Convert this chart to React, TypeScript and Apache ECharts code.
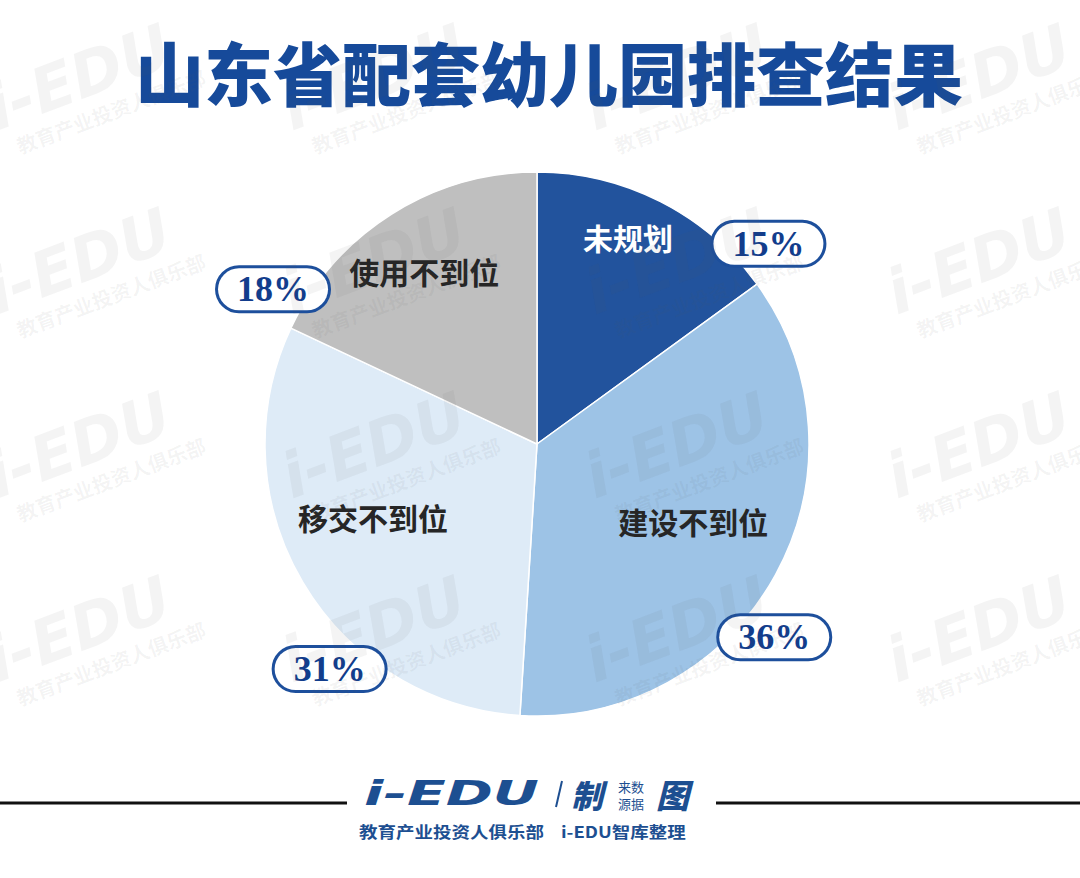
import React, { useEffect, useRef } from 'react';
import * as echarts from 'echarts';

// 山东省配套幼儿园排查结果 — share of problem types (%)
const categories = ['未规划', '建设不到位', '移交不到位', '使用不到位'];
const shares = [15, 36, 31, 18];

const sliceColors = ['#22539d', '#9dc3e6', '#deebf7', '#bfbfbf'];
const nameColors = ['#ffffff', '#262626', '#262626', '#262626'];

// label placement: fraction along each slice's arc and fraction of the radius
const nameArcPos = [0.44, 0.48, 0.56, 0.49];
const nameRadPos = [0.83, 0.64, 0.66, 0.76];
const pctArcPos = [0.91, 0.58, 0.35, 0.08];
const pctRadPos = 1.125;

const CX = 537;
const CY = 444;
const R = 272;

const NAVY = '#1d4f91';
const MARK = 'rgba(90,90,90,0.065)';

function polar(i: number, t: number, rf: number): [number, number] {
  const total = shares.reduce((a, b) => a + b, 0);
  let before = 0;
  for (let k = 0; k < i; k++) before += shares[k];
  const a = ((before + t * shares[i]) / total) * Math.PI * 2;
  return [CX + rf * R * Math.sin(a), CY - rf * R * Math.cos(a)];
}

function watermarks(): any[] {
  const cols = [0, 295, 598, 900];
  const rows = [140, 324, 508, 692];
  const out: any[] = [];
  rows.forEach((y) =>
    cols.forEach((x) => {
      out.push({
        type: 'group',
        x,
        y,
        rotation: 0.36,
        z: 50,
        silent: true,
        children: [
          {
            type: 'text',
            x: 0,
            y: 0,
            z: 50,
            style: {
              text: 'i-EDU',
              fontSize: 62,
              fontWeight: 900,
              fontStyle: 'italic',
              fontFamily: 'DejaVu Sans',
              fill: MARK,
              align: 'left',
              verticalAlign: 'bottom',
            },
          },
          {
            type: 'text',
            x: 14,
            y: 2,
            z: 50,
            style: {
              text: '教育产业投资人俱乐部',
              fontSize: 20,
              fontWeight: 'bold',
              fontFamily: 'Noto Sans CJK SC',
              fill: MARK,
              align: 'left',
              verticalAlign: 'top',
            },
          },
        ],
      });
    })
  );
  return out;
}

function footer(): any[] {
  return [
    { type: 'line', z: 60, shape: { x1: 0, y1: 803, x2: 347, y2: 803 }, style: { stroke: '#111', lineWidth: 3 } },
    { type: 'line', z: 60, shape: { x1: 716, y1: 803, x2: 1080, y2: 803 }, style: { stroke: '#111', lineWidth: 3 } },
    {
      type: 'text',
      x: 364,
      y: 794,
      scaleX: 1.72,
      z: 60,
      style: {
        text: 'i-EDU',
        fontSize: 33,
        fontWeight: 900,
        fontStyle: 'italic',
        fontFamily: 'DejaVu Sans',
        fill: NAVY,
        align: 'left',
        verticalAlign: 'middle',
      },
    },
    { type: 'line', z: 60, shape: { x1: 562, y1: 781, x2: 556, y2: 807 }, style: { stroke: NAVY, lineWidth: 2 } },
    {
      type: 'text',
      x: 571,
      y: 794,
      z: 60,
      style: {
        text: '制',
        fontSize: 32,
        fontWeight: 900,
        fontStyle: 'italic',
        fontFamily: 'Noto Sans CJK SC',
        fill: NAVY,
        align: 'left',
        verticalAlign: 'middle',
      },
    },
    {
      type: 'text',
      x: 618,
      y: 786,
      z: 60,
      style: {
        text: '来数',
        fontSize: 13,
        lineHeight: 14,
        fontFamily: 'Noto Sans CJK SC',
        fill: NAVY,
        align: 'left',
        verticalAlign: 'middle',
      },
    },
    {
      type: 'text',
      x: 618,
      y: 803,
      z: 60,
      style: {
        text: '源据',
        fontSize: 13,
        lineHeight: 14,
        fontFamily: 'Noto Sans CJK SC',
        fill: NAVY,
        align: 'left',
        verticalAlign: 'middle',
      },
    },
    {
      type: 'text',
      x: 656,
      y: 794,
      z: 60,
      style: {
        text: '图',
        fontSize: 33,
        fontWeight: 900,
        fontStyle: 'italic',
        fontFamily: 'Noto Sans CJK SC',
        fill: NAVY,
        align: 'left',
        verticalAlign: 'middle',
      },
    },
    {
      type: 'text',
      x: 359,
      y: 831,
      scaleY: 0.85,
      z: 60,
      style: {
        text: '教育产业投资人俱乐部',
        fontSize: 18.5,
        fontWeight: 'bold',
        fontFamily: 'Noto Sans CJK SC',
        fill: NAVY,
        align: 'left',
        verticalAlign: 'middle',
      },
    },
    {
      type: 'text',
      x: 561,
      y: 831,
      scaleY: 0.85,
      z: 60,
      style: {
        text: 'i-EDU智库整理',
        fontSize: 18.5,
        fontWeight: 'bold',
        fontFamily: 'Noto Sans CJK SC',
        fill: NAVY,
        align: 'left',
        verticalAlign: 'middle',
      },
    },
  ];
}

export default function App() {
  const ref = useRef<HTMLDivElement>(null);

  useEffect(() => {
    document.body.style.margin = '0';
    if (!ref.current) return;
    const chart = echarts.init(ref.current, undefined, { renderer: 'svg' });

    const sliceData = categories.map((name, i) => ({
      name,
      value: shares[i],
      itemStyle: { color: sliceColors[i] },
      label: { color: nameColors[i] },
    }));

    chart.setOption({
      animation: false,
      backgroundColor: '#ffffff',
      title: {
        text: '山东省配套幼儿园排查结果',
        left: 135,
        top: 36,
        padding: 0,
        textStyle: {
          fontFamily: 'Noto Sans CJK SC',
          fontWeight: 900,
          fontSize: 69,
          color: '#164a9a',
        },
      },
      series: [
        {
          type: 'pie',
          center: [CX, CY],
          radius: [0, R],
          startAngle: 90,
          clockwise: true,
          avoidLabelOverlap: false,
          silent: true,
          itemStyle: { borderColor: '#ffffff', borderWidth: 1.5 },
          label: {
            show: true,
            position: 'inside',
            formatter: '{b}',
            fontFamily: 'Noto Sans CJK SC',
            fontWeight: 'bold',
            fontSize: 30,
            align: 'center',
            verticalAlign: 'middle',
          },
          labelLine: { show: false },
          labelLayout: (p: any) => {
            const [x, y] = polar(p.dataIndex, nameArcPos[p.dataIndex], nameRadPos[p.dataIndex]);
            return { x, y };
          },
          data: sliceData,
        },
        {
          type: 'pie',
          center: [CX, CY],
          radius: [0, R],
          startAngle: 90,
          clockwise: true,
          avoidLabelOverlap: false,
          silent: true,
          itemStyle: { color: 'rgba(0,0,0,0)', borderWidth: 0 },
          label: {
            show: true,
            position: 'inside',
            formatter: '{c}%',
            fontFamily: 'Liberation Serif',
            fontWeight: 'bold',
            fontSize: 36,
            lineHeight: 36,
            color: '#123d8c',
            backgroundColor: '#ffffff',
            borderColor: '#1d4f9c',
            borderWidth: 3,
            borderRadius: 22,
            padding: [3, 19],
            align: 'center',
            verticalAlign: 'middle',
          },
          labelLine: { show: false },
          labelLayout: (p: any) => {
            const [x, y] = polar(p.dataIndex, pctArcPos[p.dataIndex], pctRadPos);
            return { x, y };
          },
          data: categories.map((name, i) => ({ name, value: shares[i] })),
        },
      ],
      graphic: [...watermarks(), ...footer()],
    });

    return () => chart.dispose();
  }, []);

  return <div ref={ref} style={{ width: 1080, height: 878 }} />;
}
